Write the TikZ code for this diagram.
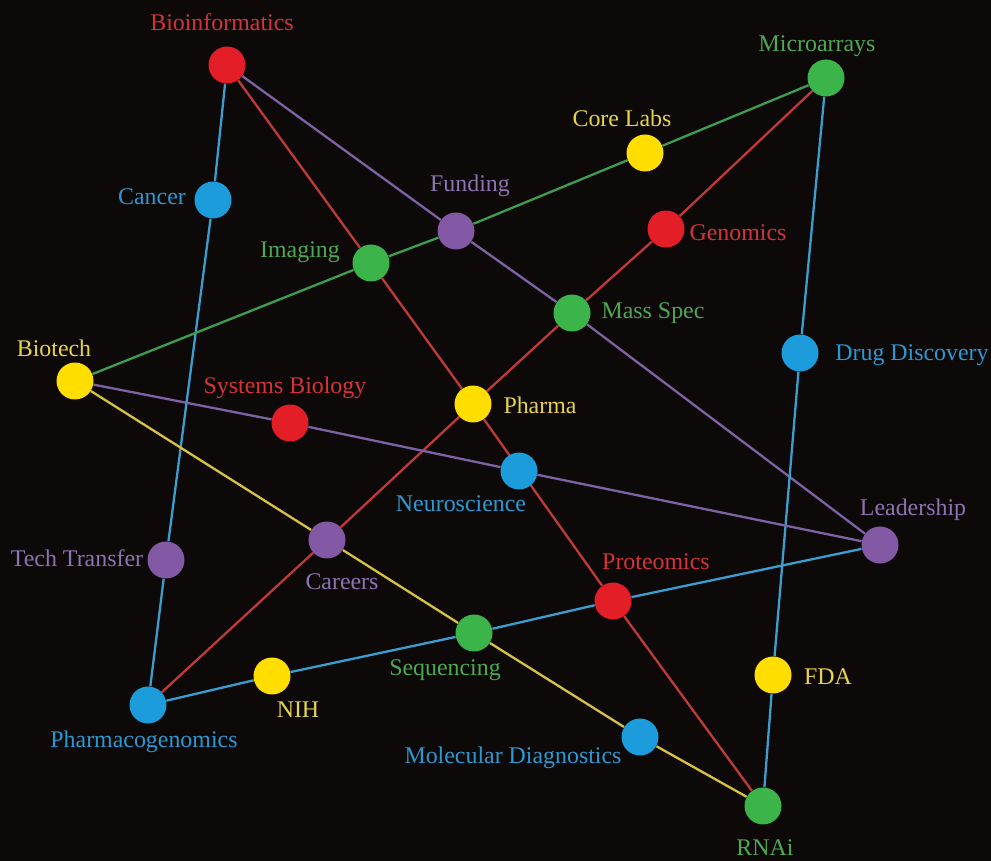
\documentclass[tikz,border=0pt]{standalone}
\usepackage{fontspec}
\setmainfont{Liberation Serif}
\usetikzlibrary{backgrounds}
\definecolor{bgcol}{HTML}{0E0909}
\definecolor{nred}{HTML}{E41E26}
\definecolor{ngreen}{HTML}{3BB54A}
\definecolor{nyellow}{HTML}{FFDE00}
\definecolor{nblue}{HTML}{1C9CDB}
\definecolor{npurple}{HTML}{8359A6}
\definecolor{tred}{HTML}{D3343A}
\definecolor{tgreen}{HTML}{4DA852}
\definecolor{tyellow}{HTML}{E6D54C}
\definecolor{tblue}{HTML}{2C98D2}
\definecolor{tpurple}{HTML}{8C73B2}
\definecolor{lred}{HTML}{C0393B}
\definecolor{lgreen}{HTML}{3C9E4E}
\definecolor{lyellow}{HTML}{D6C341}
\definecolor{lblue}{HTML}{3A9FD0}
\definecolor{lpurple}{HTML}{7D62A6}

\begin{document}
\begin{tikzpicture}[x=0.02cm,y=-0.02cm,
  dot/.style={circle,fill=#1,minimum size=0.74cm,inner sep=0pt},
  txt/.style={text=#1,font=\fontsize{13.6}{16}\selectfont,inner sep=0pt},
  link/.style={draw=#1,line width=1.3pt}]
  \useasboundingbox (0,0) rectangle (991,861);
  % topics
  \node[dot=nred]    (bioinf)  at (227,65)  {};
  \node[dot=ngreen]  (micro)   at (826,78)  {};
  \node[dot=nyellow] (core)    at (645,153) {};
  \node[dot=nred]    (genom)   at (666,229) {};
  \node[dot=npurple] (fund)    at (456,231) {};
  \node[dot=nblue]   (cancer)  at (213,200) {};
  \node[dot=ngreen]  (imag)    at (371,263) {};
  \node[dot=ngreen]  (mass)    at (572,313) {};
  \node[dot=nblue]   (drug)    at (800,353) {};
  \node[dot=nyellow] (biotech) at (75,381)  {};
  \node[dot=nred]    (sysbio)  at (290,423) {};
  \node[dot=nyellow] (pharma)  at (473,404) {};
  \node[dot=nblue]   (neuro)   at (519,471) {};
  \node[dot=npurple] (lead)    at (880,545) {};
  \node[dot=npurple] (techtr)  at (166,560) {};
  \node[dot=npurple] (career)  at (327,540) {};
  \node[dot=nred]    (prot)    at (613,601) {};
  \node[dot=ngreen]  (seq)     at (474,633) {};
  \node[dot=nyellow] (nih)     at (272,676) {};
  \node[dot=nyellow] (fda)     at (773,675) {};
  \node[dot=nblue]   (pgx)     at (148,705) {};
  \node[dot=nblue]   (moldx)   at (640,737) {};
  \node[dot=ngreen]  (rnai)    at (763,806) {};
  % labels
  \node[txt=tred]    (bioinf-l)  at (222,22)  {Bioinformatics};
  \node[txt=tgreen]  (micro-l)   at (817,46)  {Microarrays};
  \node[txt=tyellow] (core-l)    at (622,118) {Core Labs};
  \node[txt=tred]    (genom-l)   at (738,233) {Genomics};
  \node[txt=tpurple] (fund-l)    at (470,186) {Funding};
  \node[txt=tblue]   (cancer-l)  at (152,197) {Cancer};
  \node[txt=tgreen]  (imag-l)    at (300,252) {Imaging};
  \node[txt=tgreen]  (mass-l)    at (653,313) {Mass Spec};
  \node[txt=tblue]   (drug-l)    at (912,355) {Drug Discovery};
  \node[txt=tyellow] (biotech-l) at (54,348)  {Biotech};
  \node[txt=tred]    (sysbio-l)  at (285,388) {Systems Biology};
  \node[txt=tyellow] (pharma-l)  at (540,405) {Pharma};
  \node[txt=tblue]   (neuro-l)   at (461,504) {Neuroscience};
  \node[txt=tpurple] (lead-l)    at (913,510) {Leadership};
  \node[txt=tpurple] (techtr-l)  at (77,558)  {Tech Transfer};
  \node[txt=tpurple] (career-l)  at (342,582) {Careers};
  \node[txt=tred]    (prot-l)    at (656,562) {Proteomics};
  \node[txt=tgreen]  (seq-l)     at (445,670) {Sequencing};
  \node[txt=tyellow] (nih-l)     at (298,710) {NIH};
  \node[txt=tyellow] (fda-l)     at (828,677) {FDA};
  \node[txt=tblue]   (pgx-l)     at (144,742) {Pharmacogenomics};
  \node[txt=tblue]   (moldx-l)   at (513,758) {Molecular Diagnostics};
  \node[txt=tgreen]  (rnai-l)    at (765,848) {RNAi};
  % star lines
  \begin{pgfonlayer}{background}
    \fill[bgcol] (0,0) rectangle (991,861);
    \draw[link=lblue]   (bioinf) -- (cancer) -- (techtr) -- (pgx);
    \draw[link=lred]    (bioinf) -- (imag) -- (pharma) -- (prot) -- (rnai);
    \draw[link=lpurple] (bioinf) -- (fund) -- (mass) -- (lead);
    \draw[link=lblue]   (micro) -- (drug) -- (fda) -- (rnai);
    \draw[link=lred]    (micro) -- (genom) -- (mass) -- (pharma) -- (career) -- (pgx);
    \draw[link=lgreen]  (micro) -- (core) -- (fund) -- (imag) -- (biotech);
    \draw[link=lpurple] (biotech) -- (sysbio) -- (neuro) -- (lead);
    \draw[link=lyellow] (biotech) -- (career) -- (seq) -- (moldx) -- (rnai);
    \draw[link=lblue]   (lead) -- (prot) -- (seq) -- (nih) -- (pgx);
  \end{pgfonlayer}
\end{tikzpicture}
\end{document}
